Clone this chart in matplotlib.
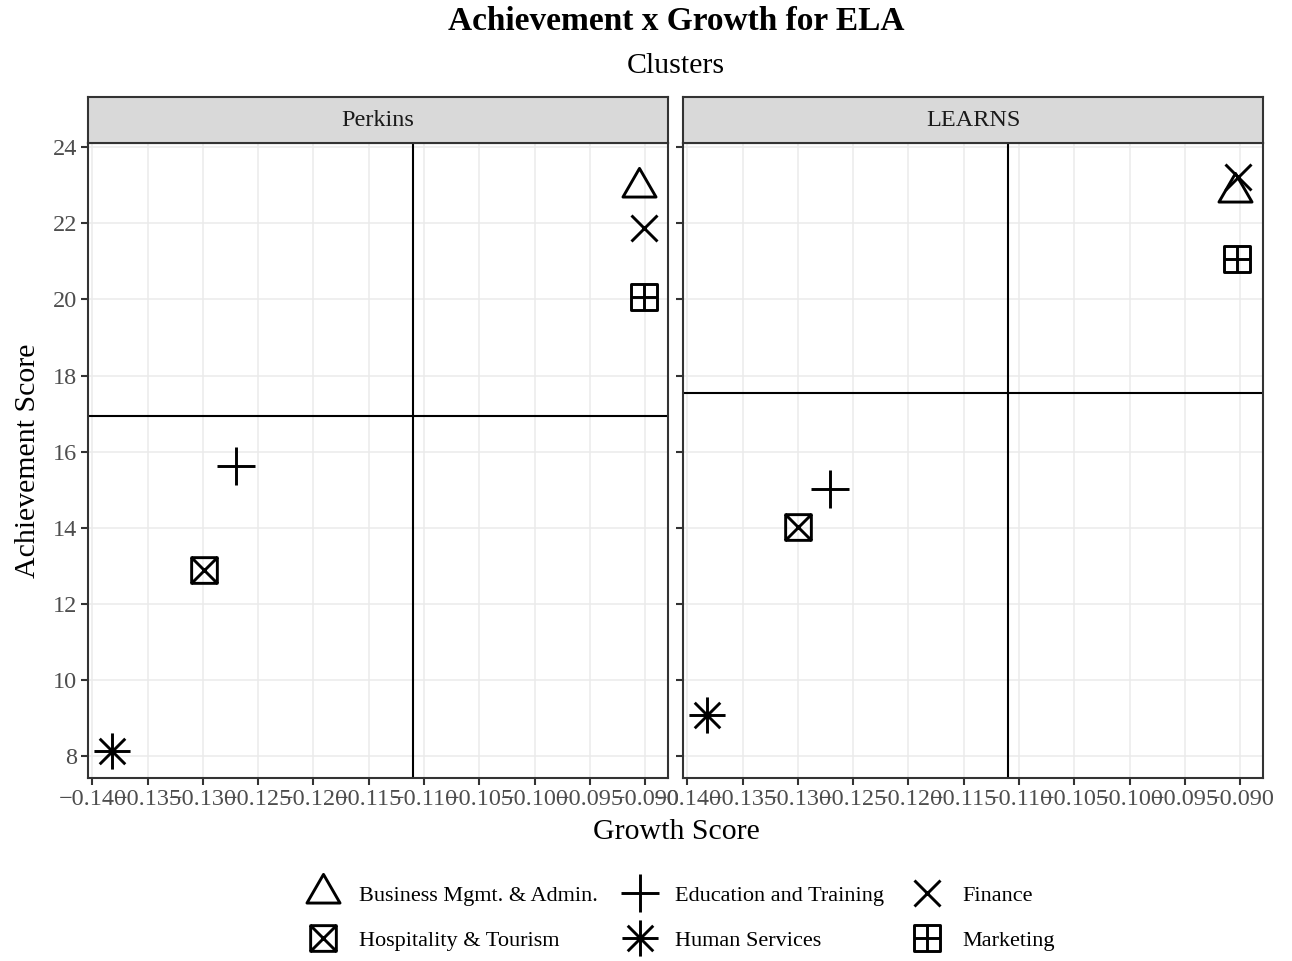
import numpy as np
import matplotlib
matplotlib.use("Agg")
import matplotlib.pyplot as plt
from matplotlib.path import Path
from matplotlib.lines import Line2D

plt.rcParams['font.family'] = ['Liberation Serif', 'DejaVu Serif']

# data
clusters = ["Business Mgmt. & Admin.", "Education and Training", "Finance",
            "Hospitality & Tourism", "Human Services", "Marketing"]
panels = ["Perkins", "LEARNS"]
perkins_growth = [-0.0906, -0.12705, -0.09015, -0.12986, -0.13819, -0.09015]
perkins_achieve = [22.95, 15.63, 21.88, 12.89, 8.15, 20.07]
learns_growth = [-0.09045, -0.12709, -0.09022, -0.12996, -0.13819, -0.09025]
learns_achieve = [22.81, 15.01, 23.22, 14.03, 9.08, 21.05]
x_ticks = [-0.140, -0.135, -0.130, -0.125, -0.120, -0.115, -0.110, -0.105, -0.100, -0.095, -0.090]
y_ticks = [8, 10, 12, 14, 16, 18, 20, 22, 24]

# ggplot-like shapes
tri = Path([(0, 1.5551), (1.3468, -0.7776), (-1.3468, -0.7776), (0, 1.5551)],
           [Path.MOVETO, Path.LINETO, Path.LINETO, Path.CLOSEPOLY])
sq = [(-1, -1), (1, -1), (1, 1), (-1, 1), (-1, -1)]
sq_codes = [Path.MOVETO, Path.LINETO, Path.LINETO, Path.LINETO, Path.CLOSEPOLY]
box_x = Path(sq + [(-1, -1), (1, 1), (-1, 1), (1, -1)],
             sq_codes + [Path.MOVETO, Path.LINETO, Path.MOVETO, Path.LINETO])
box_plus = Path(sq + [(0, -1), (0, 1), (-1, 0), (1, 0)],
                sq_codes + [Path.MOVETO, Path.LINETO, Path.MOVETO, Path.LINETO])
d = 0.707
aster = Path([(-1, 0), (1, 0), (0, -1), (0, 1), (-d, -d), (d, d), (-d, d), (d, -d)],
             [Path.MOVETO, Path.LINETO] * 4)

markers = {"Business Mgmt. & Admin.": (tri, 27.5),
           "Education and Training": ("+", 27),
           "Finance": ("x", 19),
           "Hospitality & Tourism": (box_x, 18.5),
           "Human Services": (aster, 26),
           "Marketing": (box_plus, 18.5)}

W, H = 1292, 961
fig = plt.figure(figsize=(W / 100, H / 100), dpi=100)

border = "#333333"
lefts = [88, 683]
pw = 580
top, bottom = 143, 778
strip_top = 97

data = {"Perkins": (perkins_growth, perkins_achieve),
        "LEARNS": (learns_growth, learns_achieve)}

for i, name in enumerate(panels):
    ax = fig.add_axes([lefts[i] / W, (H - bottom) / H, pw / W, (bottom - top) / H])
    gx, ay = data[name]
    ax.set_xlim(-0.14039, -0.08794)
    ax.set_ylim(7.43, 24.11)
    ax.set_xticks(x_ticks)
    ax.set_xticklabels([("%.3f" % v).replace("-", "\u2212") for v in x_ticks])
    ax.set_yticks(y_ticks)
    if i == 1:
        ax.set_yticklabels([])
    ax.grid(True, color="#EBEBEB", linewidth=1.1)
    ax.set_axisbelow(True)
    ax.axvline(np.mean(gx), color="black", linewidth=1.5, zorder=2)
    ax.axhline(np.mean(ay), color="black", linewidth=1.5, zorder=2)
    for c, x, y in zip(clusters, gx, ay):
        m, s = markers[c]
        ax.plot(x, y, linestyle="none", marker=m, markersize=s, markerfacecolor="none",
                markeredgecolor="black", markeredgewidth=2.1, zorder=3)
    for sp in ax.spines.values():
        sp.set_color(border)
        sp.set_linewidth(1.5)
    ax.tick_params(direction="out", length=5, width=1.5, color=border,
                   labelsize=17.5, labelcolor="#4D4D4D", pad=3)

    # facet strip
    sax = fig.add_axes([lefts[i] / W, (H - top) / H, pw / W, (top - strip_top) / H])
    sax.set_facecolor("#D9D9D9")
    sax.set_xticks([])
    sax.set_yticks([])
    for sp in sax.spines.values():
        sp.set_color(border)
        sp.set_linewidth(1.5)
    sax.text(0.5, 0.5, name, ha="center", va="center", fontsize=17.5,
             color="#1A1A1A", transform=sax.transAxes)

fig.text(676 / W, 1 - 22 / H, "Achievement x Growth for ELA", ha="center", va="center",
         fontsize=24, fontweight="bold")
fig.text(676 / W, 1 - 66 / H, "Clusters", ha="center", va="center", fontsize=21.5)
fig.text(676 / W, 1 - 832 / H, "Growth Score", ha="center", va="center", fontsize=21.5)
fig.text(28 / W, 1 - 461 / H, "Achievement Score", ha="center", va="center",
         fontsize=21.5, rotation=90)

# legend, filled row by row like ggplot
order = ["Business Mgmt. & Admin.", "Hospitality & Tourism", "Education and Training",
         "Human Services", "Finance", "Marketing"]
handles = []
for c in order:
    m, s = markers[c]
    handles.append(Line2D([], [], linestyle="none", marker=m, markersize=s,
                          markerfacecolor="none", markeredgecolor="black",
                          markeredgewidth=2.1))
fig.legend(handles, order, loc="center", bbox_to_anchor=(680 / W, 1 - 918 / H), ncol=3,
           frameon=False, fontsize=16, handlelength=1.6, handletextpad=0.8,
           columnspacing=1.1, labelspacing=1.1)

fig.savefig("out.png", dpi=100)
